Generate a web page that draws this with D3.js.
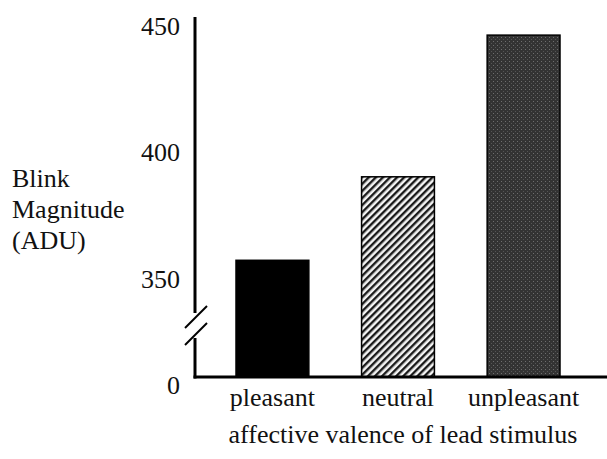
<!DOCTYPE html>
<html>
<head>
<meta charset="utf-8">
<script src="https://cdn.jsdelivr.net/npm/d3@7"></script>
<style>
    body { margin: 0; background: #fff; }
</style>
</head>
<body>
<div id="chart"></div>
<script>
const categories = ['pleasant', 'neutral', 'unpleasant'];
const blinkValues = [357, 390, 446];
const tickValues = [0, 350, 400, 450];
const yLabelLines = ['Blink', 'Magnitude', '(ADU)'];
const xTitle = 'affective valence of lead stimulus';

const width = 607;
const height = 459;
const FONT = 26;
const SERIF = 'Liberation Serif';

const svg = d3.select('#chart').append('svg')
    .attr('width', width)
    .attr('height', height);

const defs = svg.append('defs');

// diagonal hatch for "neutral"
const hatch = defs.append('pattern')
    .attr('id', 'hatch')
    .attr('patternUnits', 'userSpaceOnUse')
    .attr('width', 5)
    .attr('height', 5)
    .attr('patternTransform', 'rotate(45)');
hatch.append('rect').attr('width', 5).attr('height', 5).attr('fill', '#f4f4f4');
hatch.append('rect').attr('width', 2.4).attr('height', 5).attr('fill', '#1a1a1a');

// dark dotted screen for "unpleasant"
const screen = defs.append('pattern')
    .attr('id', 'screen')
    .attr('patternUnits', 'userSpaceOnUse')
    .attr('width', 4)
    .attr('height', 4);
screen.append('rect').attr('width', 4).attr('height', 4).attr('fill', '#333');
screen.append('rect').attr('x', 1).attr('y', 1).attr('width', 1).attr('height', 1).attr('fill', '#6e6e6e');
screen.append('rect').attr('x', 3).attr('y', 3).attr('width', 1).attr('height', 1).attr('fill', '#555');

const fills = ['#000', 'url(#hatch)', 'url(#screen)'];

const axisX = 195;
const baseY = 377;

// broken axis: 0 sits at the baseline, 350..450 above the break
const y = d3.scaleLinear()
    .domain([0, 350, 450])
    .range([baseY, 278, 25]);

const x = d3.scaleBand()
    .domain(categories)
    .range([236, 560])
    .paddingInner(0.42)
    .paddingOuter(0);

// bars
svg.append('g').selectAll('rect')
    .data(categories)
    .join('rect')
    .attr('x', d => x(d))
    .attr('y', (d, i) => y(blinkValues[i]))
    .attr('width', x.bandwidth())
    .attr('height', (d, i) => baseY - y(blinkValues[i]))
    .attr('fill', (d, i) => fills[i])
    .attr('stroke', '#000')
    .attr('stroke-width', 1.5);

// axis lines
const breakTop = 313;
const breakBottom = 338;
svg.append('line')
    .attr('x1', axisX).attr('x2', axisX)
    .attr('y1', 17).attr('y2', breakTop)
    .attr('stroke', '#000').attr('stroke-width', 3);
svg.append('line')
    .attr('x1', axisX).attr('x2', axisX)
    .attr('y1', breakBottom).attr('y2', baseY + 1.5)
    .attr('stroke', '#000').attr('stroke-width', 3);
svg.append('line')
    .attr('x1', axisX - 1.5).attr('x2', width)
    .attr('y1', baseY).attr('y2', baseY)
    .attr('stroke', '#000').attr('stroke-width', 3);

// break marks
[breakTop + 4, breakBottom - 4].forEach(cy => {
    svg.append('line')
        .attr('x1', axisX - 10).attr('y1', cy + 11)
        .attr('x2', axisX + 12).attr('y2', cy - 11)
        .attr('stroke', '#000').attr('stroke-width', 2);
});

// tick labels
const yAxis = svg.append('g')
    .attr('transform', `translate(${axisX},0)`)
    .call(d3.axisLeft(y).tickValues(tickValues).tickSize(0).tickPadding(15));
yAxis.attr('font-family', SERIF).attr('font-size', FONT);
yAxis.select('.domain').remove();
yAxis.selectAll('text')
    .attr('fill', '#111')
    .attr('dy', d => d === 0 ? '0.65em' : '0.35em');

// category labels
svg.append('g').selectAll('text')
    .data(categories)
    .join('text')
    .attr('x', d => x(d) + x.bandwidth() / 2)
    .attr('y', 406)
    .attr('text-anchor', 'middle')
    .attr('font-family', SERIF)
    .attr('font-size', FONT)
    .attr('fill', '#111')
    .text(d => d);

svg.append('text')
    .attr('x', 403)
    .attr('y', 443)
    .attr('text-anchor', 'middle')
    .attr('font-family', SERIF)
    .attr('font-size', FONT)
    .attr('fill', '#111')
    .text(xTitle);

svg.append('g').selectAll('text')
    .data(yLabelLines)
    .join('text')
    .attr('x', 12)
    .attr('y', (d, i) => 187 + i * 31)
    .attr('font-family', SERIF)
    .attr('font-size', FONT)
    .attr('fill', '#111')
    .text(d => d);
</script>
</body>
</html>
